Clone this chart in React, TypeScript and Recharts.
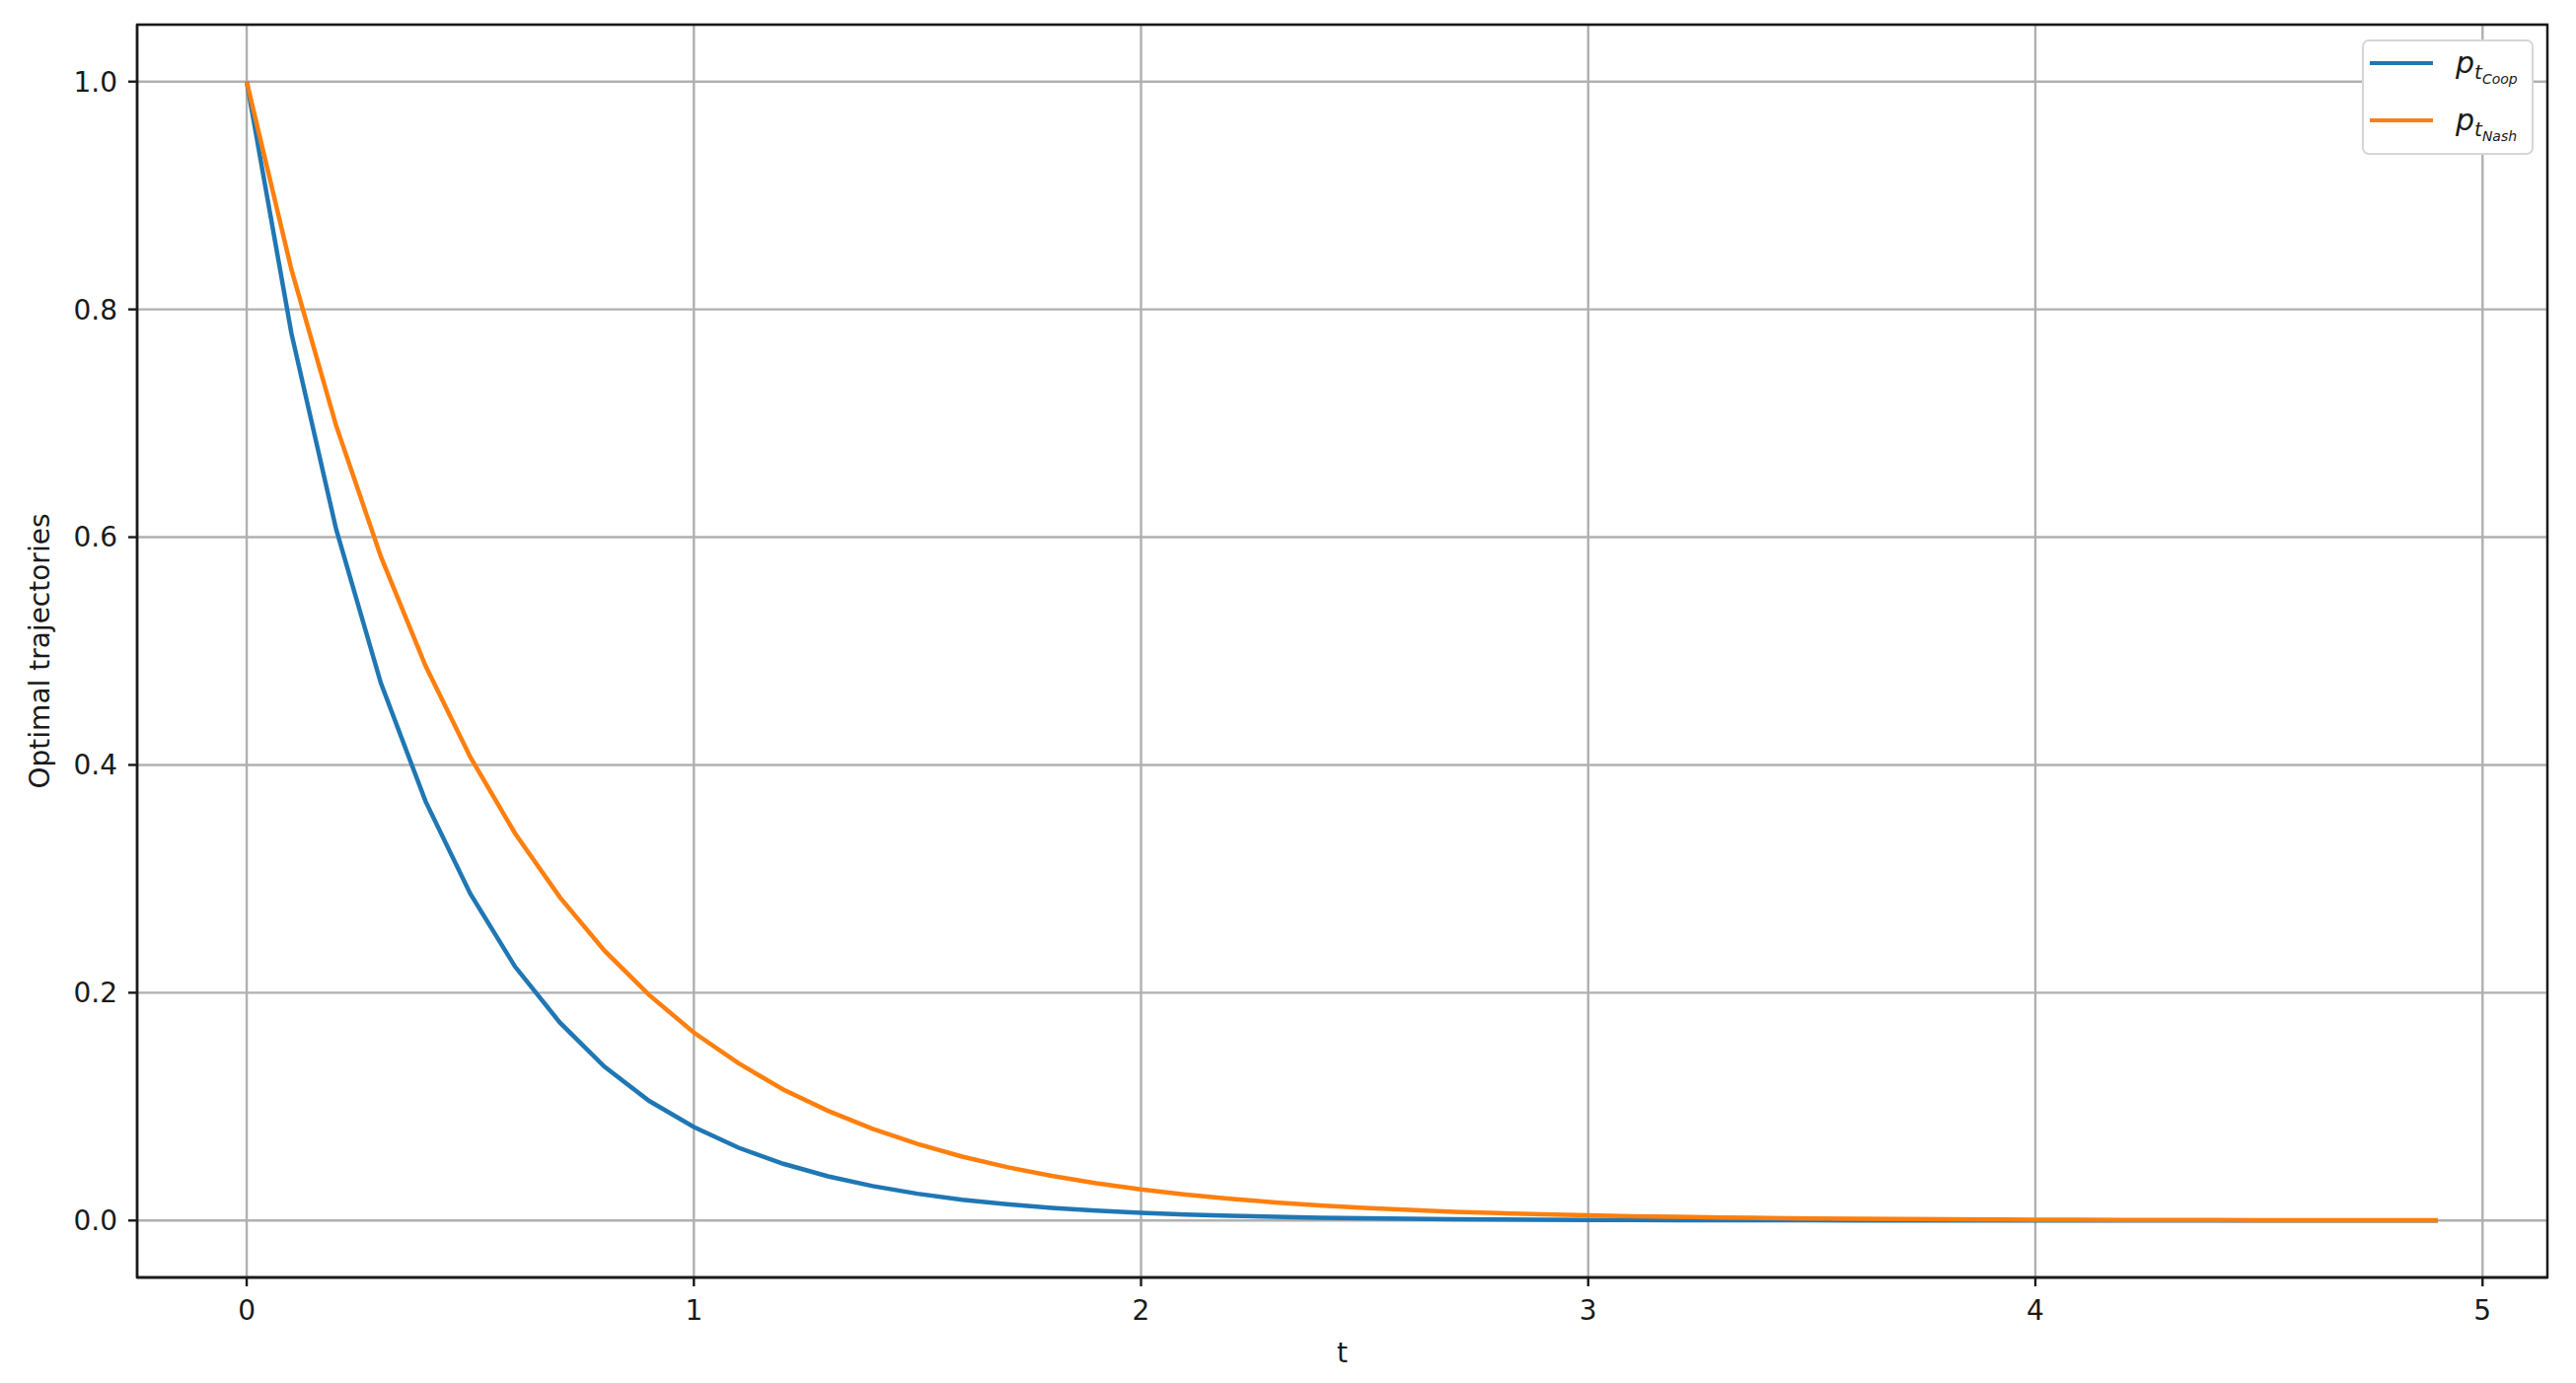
import { CartesianGrid, Legend, Line, LineChart, ReferenceArea, XAxis, YAxis } from "recharts";

// time grid (t), one point every 0.1
const T = [
    0, 0.1, 0.2, 0.3, 0.4, 0.5, 0.6, 0.7, 0.8, 0.9,
    1, 1.1, 1.2, 1.3, 1.4, 1.5, 1.6, 1.7, 1.8, 1.9,
    2, 2.1, 2.2, 2.3, 2.4, 2.5, 2.6, 2.7, 2.8, 2.9,
    3, 3.1, 3.2, 3.3, 3.4, 3.5, 3.6, 3.7, 3.8, 3.9,
    4, 4.1, 4.2, 4.3, 4.4, 4.5, 4.6, 4.7, 4.8, 4.9,
];

const P_COOP = [
    1.0, 0.779, 0.607, 0.472, 0.368, 0.287, 0.223, 0.174, 0.135, 0.105,
    0.0821, 0.0639, 0.0498, 0.0388, 0.0302, 0.0235, 0.0183, 0.0143, 0.0111, 0.0087,
    0.0067, 0.0053, 0.0041, 0.0032, 0.0025, 0.0019, 0.0015, 0.0012, 0.0009, 0.0007,
    0.00055, 0.00043, 0.00034, 0.00026, 0.0002, 0.00016, 0.00012, 0.0001, 0.00007, 0.00006,
    0.00005, 0.00004, 0.00003, 0.00002, 0.00002, 0.00001, 0.00001, 0.00001, 0.00001, 0.0,
];

const P_NASH = [
    1.0, 0.835, 0.698, 0.583, 0.487, 0.407, 0.34, 0.284, 0.237, 0.198,
    0.165, 0.138, 0.115, 0.0963, 0.0805, 0.0672, 0.0561, 0.0469, 0.0392, 0.0327,
    0.0273, 0.0228, 0.0191, 0.0159, 0.0133, 0.0111, 0.0093, 0.0077, 0.0065, 0.0054,
    0.0045, 0.0038, 0.0032, 0.0026, 0.0022, 0.0018, 0.0015, 0.0013, 0.0011, 0.0009,
    0.00075, 0.00062, 0.00052, 0.00044, 0.00036, 0.0003, 0.00025, 0.00021, 0.00018, 0.00015,
];

const X_TICKS = [0, 1, 2, 3, 4, 5];
const Y_TICKS = [0, 0.2, 0.4, 0.6, 0.8, 1.0];
const SERIES = ['coop', 'nash'];
const SUBSCRIPTS = ['Coop', 'Nash'];
const COLORS = ['#1f77b4', '#ff7f0e'];

const X_DOMAIN = [-0.245, 5.145];
const Y_DOMAIN = [-0.05, 1.05];

const data = T.map((t, i) => ({ t, coop: P_COOP[i], nash: P_NASH[i] }));

const FONT = '"DejaVu Sans", sans-serif';
const INK = '#1a1a1a';
const tickStyle = { fontFamily: FONT, fontSize: 28, fill: INK };

const renderLegend = () => (
    <div
        style={{
            background: '#fff',
            border: '2px solid #d6d6d6',
            borderRadius: 7,
            boxSizing: 'border-box',
            width: 174,
            height: 117,
            fontFamily: FONT,
            color: INK,
        }}
    >
        {SERIES.map((key, i) => (
            <div key={key} style={{ display: 'flex', alignItems: 'center', height: 44, marginBottom: 14 }}>
                <div style={{ marginLeft: 6, width: 64, height: 4.5, background: COLORS[i] }} />
                <div style={{ marginLeft: 23, whiteSpace: 'nowrap', lineHeight: 1 }}>
                    <span style={{ fontStyle: 'italic', fontSize: 30 }}>p</span>
                    <span style={{ fontStyle: 'italic', fontSize: 20, position: 'relative', top: 6 }}>t</span>
                    <span style={{ fontStyle: 'italic', fontSize: 14, position: 'relative', top: 11 }}>{SUBSCRIPTS[i]}</span>
                </div>
            </div>
        ))}
    </div>
);

export default function App() {
    return (
        <div style={{ position: 'absolute', left: 0, top: 0, background: '#fff' }}>
            <LineChart width={2611} height={1402} data={data} margin={{ top: 25, right: 29, left: 0, bottom: 0 }}>
                <CartesianGrid stroke="#b0b0b0" strokeWidth={2.4} />
                <XAxis
                    dataKey="t"
                    type="number"
                    domain={X_DOMAIN}
                    ticks={X_TICKS}
                    height={107}
                    stroke={INK}
                    strokeWidth={2.4}
                    tickSize={9}
                    tickMargin={14}
                    tick={tickStyle}
                    tickFormatter={(v: number) => String(v)}
                    label={{
                        content: () => (
                            <text x={1360.5} y={1381} textAnchor="middle" fontFamily={FONT} fontSize={28} fill={INK}>
                                t
                            </text>
                        ),
                    }}
                />
                <YAxis
                    type="number"
                    domain={Y_DOMAIN}
                    ticks={Y_TICKS}
                    width={139}
                    stroke={INK}
                    strokeWidth={2.4}
                    tickSize={9}
                    tickMargin={11}
                    tick={tickStyle}
                    tickFormatter={(v: number) => v.toFixed(1)}
                    label={{
                        content: () => (
                            <text
                                x={50}
                                y={660}
                                transform="rotate(-90, 50, 660)"
                                textAnchor="middle"
                                fontFamily={FONT}
                                fontSize={28}
                                fill={INK}
                            >
                                Optimal trajectories
                            </text>
                        ),
                    }}
                />
                {SERIES.map((key, i) => (
                    <Line
                        key={key}
                        type="linear"
                        dataKey={key}
                        stroke={COLORS[i]}
                        strokeWidth={4.5}
                        dot={false}
                        activeDot={false}
                        isAnimationActive={false}
                    />
                ))}
                {/* axes frame (top and right spines) */}
                <ReferenceArea
                    x1={X_DOMAIN[0]}
                    x2={X_DOMAIN[1]}
                    y1={Y_DOMAIN[0]}
                    y2={Y_DOMAIN[1]}
                    fill="none"
                    fillOpacity={0}
                    stroke={INK}
                    strokeWidth={2.4}
                    ifOverflow="visible"
                />
                <Legend
                    layout="vertical"
                    align="center"
                    verticalAlign="middle"
                    content={renderLegend}
                    wrapperStyle={{ left: 2394, top: 40, width: 174, height: 117 }}
                />
            </LineChart>
        </div>
    );
}
